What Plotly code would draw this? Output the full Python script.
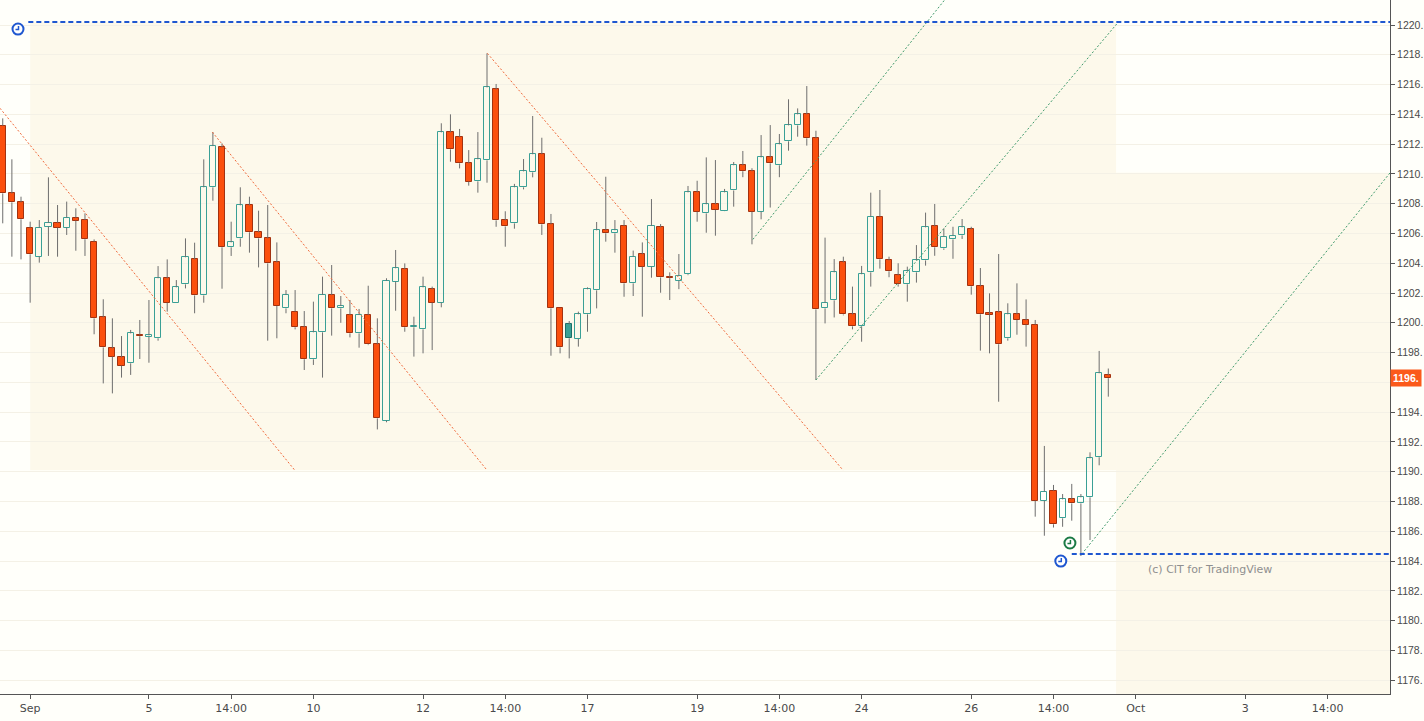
import plotly.graph_objects as go

# 4h bars (bar index 0 = first visible bar)
opens = [1213.24, 1208.69, 1208.09, 1206.39, 1204.44, 1206.46, 1206.72, 1206.39, 1207.06, 1206.90,
         1205.45, 1200.37, 1198.28, 1197.68, 1197.28, 1199.20, 1199.05, 1198.96, 1202.99, 1201.31,
         1202.58, 1204.26, 1201.84, 1209.10, 1211.78, 1205.07, 1205.67, 1207.89, 1206.08, 1205.67,
         1204.06, 1200.97, 1200.75, 1199.70, 1197.55, 1199.36, 1201.87, 1200.97, 1200.52, 1199.29,
         1200.52, 1198.55, 1193.43, 1202.76, 1203.59, 1199.70, 1199.56, 1202.25, 1201.35, 1212.79,
         1212.46, 1210.71, 1209.50, 1210.91, 1215.68, 1206.88, 1206.68, 1209.10, 1210.10, 1211.32,
         1206.61, 1200.97, 1199.90, 1198.92, 1200.57, 1202.18, 1206.21, 1206.01, 1206.50, 1202.65,
         1204.60, 1203.77, 1206.41, 1203.05, 1202.83, 1203.26, 1208.76, 1207.35, 1207.96, 1207.51,
         1208.89, 1210.58, 1210.18, 1207.46, 1211.11, 1210.58, 1212.19, 1213.26, 1214.00, 1212.39,
         1200.97, 1201.51, 1204.06, 1200.56, 1199.76, 1203.39, 1207.13, 1204.19, 1203.19, 1202.59,
         1203.39, 1204.19, 1206.48, 1205.00, 1205.60, 1205.87, 1206.28, 1202.45, 1200.57, 1200.70,
         1198.96, 1200.57, 1200.17, 1199.88, 1188.05, 1188.73, 1186.87, 1188.14, 1187.87, 1188.28,
         1190.97, 1196.48]
highs = [1213.73, 1210.98, 1208.47, 1206.79, 1206.90, 1209.77, 1207.91, 1208.14, 1207.69, 1207.35,
         1205.60, 1201.58, 1200.30, 1199.11, 1199.52, 1200.19, 1201.53, 1203.81, 1204.26, 1202.87,
         1205.67, 1205.38, 1210.98, 1212.81, 1212.05, 1206.79, 1209.10, 1208.47, 1207.53, 1207.91,
         1205.40, 1202.20, 1202.20, 1200.79, 1201.42, 1203.10, 1203.88, 1201.80, 1201.53, 1200.93,
         1202.49, 1200.30, 1202.99, 1204.89, 1203.99, 1200.41, 1203.10, 1202.43, 1213.40, 1214.00,
         1213.02, 1211.60, 1212.81, 1218.10, 1216.04, 1207.49, 1209.33, 1211.00, 1213.89, 1212.43,
         1207.31, 1201.00, 1200.12, 1200.75, 1202.38, 1206.77, 1209.81, 1206.90, 1206.90, 1204.85,
         1205.40, 1208.31, 1206.63, 1203.39, 1204.62, 1209.19, 1209.54, 1211.11, 1210.93, 1208.99,
         1210.80, 1211.54, 1210.38, 1212.61, 1213.28, 1212.68, 1215.01, 1214.40, 1215.90, 1212.90,
         1205.72, 1204.28, 1204.44, 1202.43, 1203.82, 1208.74, 1208.92, 1204.44, 1204.00, 1203.77,
         1205.22, 1207.40, 1207.98, 1206.34, 1206.45, 1206.97, 1206.45, 1203.68, 1201.98, 1204.62,
         1201.31, 1202.65, 1201.57, 1200.19, 1191.73, 1189.11, 1188.50, 1189.18, 1188.50, 1191.30,
         1198.11, 1196.93]
lows = [1206.68, 1204.44, 1204.26, 1201.35, 1204.04, 1204.49, 1204.44, 1205.90, 1204.84, 1204.49,
        1199.23, 1195.93, 1195.26, 1196.32, 1196.50, 1197.57, 1197.32, 1198.80, 1200.75, 1201.30,
        1202.31, 1200.64, 1201.35, 1208.20, 1202.29, 1204.49, 1205.11, 1204.71, 1203.72, 1198.80,
        1198.96, 1200.64, 1199.56, 1196.83, 1197.17, 1196.32, 1199.14, 1200.00, 1199.02, 1198.33,
        1198.50, 1192.84, 1193.32, 1200.81, 1199.40, 1197.73, 1197.95, 1198.17, 1201.04, 1210.82,
        1210.37, 1209.21, 1208.74, 1209.41, 1206.45, 1205.11, 1206.32, 1208.96, 1209.77, 1205.90,
        1197.79, 1197.95, 1197.61, 1198.40, 1199.40, 1200.97, 1205.45, 1204.71, 1201.75, 1201.80,
        1200.41, 1203.03, 1202.02, 1201.53, 1202.26, 1203.20, 1206.79, 1206.05, 1205.85, 1207.50,
        1207.80, 1209.78, 1205.27, 1206.95, 1207.74, 1209.78, 1211.56, 1212.50, 1211.90, 1196.16,
        1199.96, 1200.36, 1200.50, 1199.56, 1198.73, 1202.43, 1203.64, 1203.06, 1202.43, 1201.42,
        1202.70, 1203.84, 1204.50, 1204.90, 1204.30, 1205.63, 1201.89, 1198.13, 1197.95, 1194.70,
        1198.80, 1199.20, 1198.40, 1186.98, 1185.70, 1186.25, 1186.30, 1186.71, 1184.34, 1185.41,
        1190.43, 1195.04]
closes = [1208.69, 1208.09, 1206.95, 1204.60, 1206.39, 1206.72, 1206.39, 1207.06, 1206.86, 1205.61,
          1200.30, 1198.35, 1197.73, 1197.12, 1199.29, 1199.10, 1199.15, 1202.99, 1201.35, 1202.38,
          1204.40, 1201.84, 1209.10, 1211.87, 1205.07, 1205.40, 1207.89, 1206.08, 1205.67, 1203.99,
          1201.13, 1201.87, 1199.70, 1197.55, 1199.36, 1201.87, 1200.97, 1201.13, 1199.29, 1200.52,
          1198.55, 1193.58, 1202.81, 1203.66, 1199.70, 1199.75, 1202.38, 1201.35, 1212.79, 1211.65,
          1210.71, 1209.48, 1210.98, 1215.81, 1206.88, 1206.47, 1209.10, 1210.17, 1211.32, 1206.61,
          1200.97, 1198.35, 1198.96, 1200.57, 1202.25, 1206.21, 1206.01, 1206.21, 1202.65, 1204.44,
          1203.77, 1206.50, 1203.05, 1203.00, 1203.17, 1208.76, 1207.46, 1207.96, 1207.58, 1208.76,
          1210.58, 1210.18, 1207.46, 1211.11, 1210.71, 1211.99, 1213.26, 1214.00, 1212.39, 1200.90,
          1201.35, 1203.39, 1200.56, 1199.76, 1203.26, 1207.13, 1204.26, 1203.46, 1202.59, 1203.46,
          1204.19, 1206.41, 1205.07, 1205.78, 1205.85, 1206.41, 1202.45, 1200.57, 1200.55, 1198.56,
          1200.57, 1200.19, 1199.88, 1188.05, 1188.66, 1186.47, 1188.14, 1187.87, 1188.28, 1190.90,
          1196.61, 1196.28]

tick_bars = [3, 16, 25, 34, 46, 55, 64, 76, 85, 94, 106, 115, 124, 136, 145]
tick_text = ["Sep", "5", "14:00", "10", "12", "14:00", "17", "19", "14:00",
             "24", "26", "14:00", "Oct", "3", "14:00"]
price_ticks = list(range(1176, 1221, 2))
last_price = 1196.28

# drawings, as (bar, price) anchor points
range_box = (3, 121.85, 1190.1, 1220.2)
target_box = (121.85, 160, 1165, 1210.07)
down_lines = [((-0.3, 1214.41), (32.0, 1190.07)),
              ((22.94, 1212.81), (53.0, 1190.1)),
              ((53.04, 1218.1), (91.97, 1190.1))]
up_lines = [((82.1, 1205.6), (106.5, 1224.3)),
            ((89.0, 1196.16), (122.1, 1220.2)),
            ((118.1, 1184.47), (151.83, 1210.07))]
rays = [(2.8, 1220.2), (117.0, 1184.47)]
clocks = [(1.67, 1219.73, "#1f57d0"), (116.8, 1185.21, "#1b7a45"), (115.8, 1184.0, "#1f57d0")]

BG = "#fffffa"
BOX = "#fdf9eb"
RED_FILL = "#fb4f0d"
RED_LINE = "#a33210"
TEAL = "#3aa096"
TEAL_DARK = "#1f6f68"
WICK = "#6e6e6e"

bars = list(range(len(opens)))

# wicks: above and below the body only
wx, wy = [], []
for i, o, h, l, c in zip(bars, opens, highs, lows, closes):
    top, bot = max(o, c), min(o, c)
    wx += [i, i, None, i, i, None]
    wy += [h, top, None, bot, l, None]

# hollow candles: filled when close < open, red when close < previous close
fills, lines = [], []
for k in bars:
    o, c = opens[k], closes[k]
    prev = closes[k - 1] if k > 0 else o
    up = c >= prev
    if c >= o:
        fills.append("rgba(0,0,0,0)")
        lines.append(TEAL if up else RED_LINE)
    else:
        fills.append(TEAL if up else RED_FILL)
        lines.append(TEAL_DARK if up else RED_LINE)

fig = go.Figure()
fig.add_trace(go.Scatter(x=wx, y=wy, mode="lines", line=dict(color=WICK, width=1),
                         hoverinfo="skip"))
fig.add_trace(go.Bar(x=bars, base=[min(o, c) for o, c in zip(opens, closes)],
                     y=[max(abs(c - o), 0.08) for o, c in zip(opens, closes)],
                     width=0.68, marker=dict(color=fills, line=dict(color=lines, width=1)),
                     hoverinfo="skip"))

shapes = []
for x0, x1, y0, y1 in (range_box, target_box):
    shapes.append(dict(type="rect", xref="x", yref="y", x0=x0, x1=x1, y0=y0, y1=y1,
                       fillcolor=BOX, line=dict(width=0), layer="below"))
for (x0, y0), (x1, y1) in down_lines:
    shapes.append(dict(type="line", xref="x", yref="y", x0=x0, y0=y0, x1=x1, y1=y1,
                       line=dict(color="#f06a3c", width=1, dash="2px,2px")))
for (x0, y0), (x1, y1) in up_lines:
    shapes.append(dict(type="line", xref="x", yref="y", x0=x0, y0=y0, x1=x1, y1=y1,
                       line=dict(color="#3f9a6c", width=1, dash="2px,2px")))
for x0, y0 in rays:
    shapes.append(dict(type="line", xref="x", yref="y", x0=x0, y0=y0, x1=170, y1=y0,
                       line=dict(color="#1f57d0", width=2, dash="5px,3px")))
for bx, py, col in clocks:
    shapes.append(dict(type="circle", xref="x", yref="y", xsizemode="pixel", ysizemode="pixel",
                       xanchor=bx, yanchor=py, x0=-5.5, x1=5.5, y0=-5.5, y1=5.5,
                       fillcolor="#ffffff", line=dict(color=col, width=2)))
    shapes.append(dict(type="path", xref="x", yref="y", xsizemode="pixel", ysizemode="pixel",
                       xanchor=bx, yanchor=py, path="M 0.5,3 L 0.5,-0.5 L -2.5,-0.5",
                       line=dict(color=col, width=1.5)))

price_font = dict(family="Liberation Sans", size=10.5, color="#4a4a4a")

fig.update_layout(
    width=1424, height=721,
    margin=dict(l=0, r=34, t=0, b=27, autoexpand=False),
    paper_bgcolor=BG, plot_bgcolor=BG,
    showlegend=False, bargap=0,
    font=dict(family="DejaVu Sans", size=11, color="#4a4a4a"),
    shapes=shapes,
    annotations=[
        # last-price tag on the price scale (only the integer part fits, as in the original)
        dict(xref="paper", x=1, xanchor="left", yref="y", y=last_price,
             text="<b>%d.</b>" % int(last_price), showarrow=False, bgcolor="#fb5a1a",
             font=dict(family="Liberation Sans", color="#ffffff", size=10.5),
             borderpad=2),
        dict(xref="x", x=125.1, xanchor="left", yref="y", y=1183.4,
             text="(c) CIT for TradingView", showarrow=False,
             font=dict(color="#8f8f8f", size=11)),
    ],
)
fig.update_xaxes(range=[-0.3, 151.83], tickvals=tick_bars, ticktext=tick_text,
                 showgrid=False, zeroline=False, showline=True, linecolor="#555555",
                 ticks="outside", ticklen=4, tickcolor="#555555", automargin=False)
# the 1196 label is hidden behind the last-price tag
fig.update_yaxes(side="right", range=[1175.07, 1221.68], tickvals=price_ticks,
                 ticktext=["" if p == 1196 else "%d." % p for p in price_ticks],
                 tickfont=price_font,
                 showgrid=True, gridcolor="#f4f1e6", zeroline=False,
                 showline=True, linecolor="#555555", automargin=False,
                 ticks="outside", ticklen=4, tickcolor="#555555")

fig.write_html("out.html", config={"displayModeBar": False},
               post_script="document.body.style.margin='0';")
